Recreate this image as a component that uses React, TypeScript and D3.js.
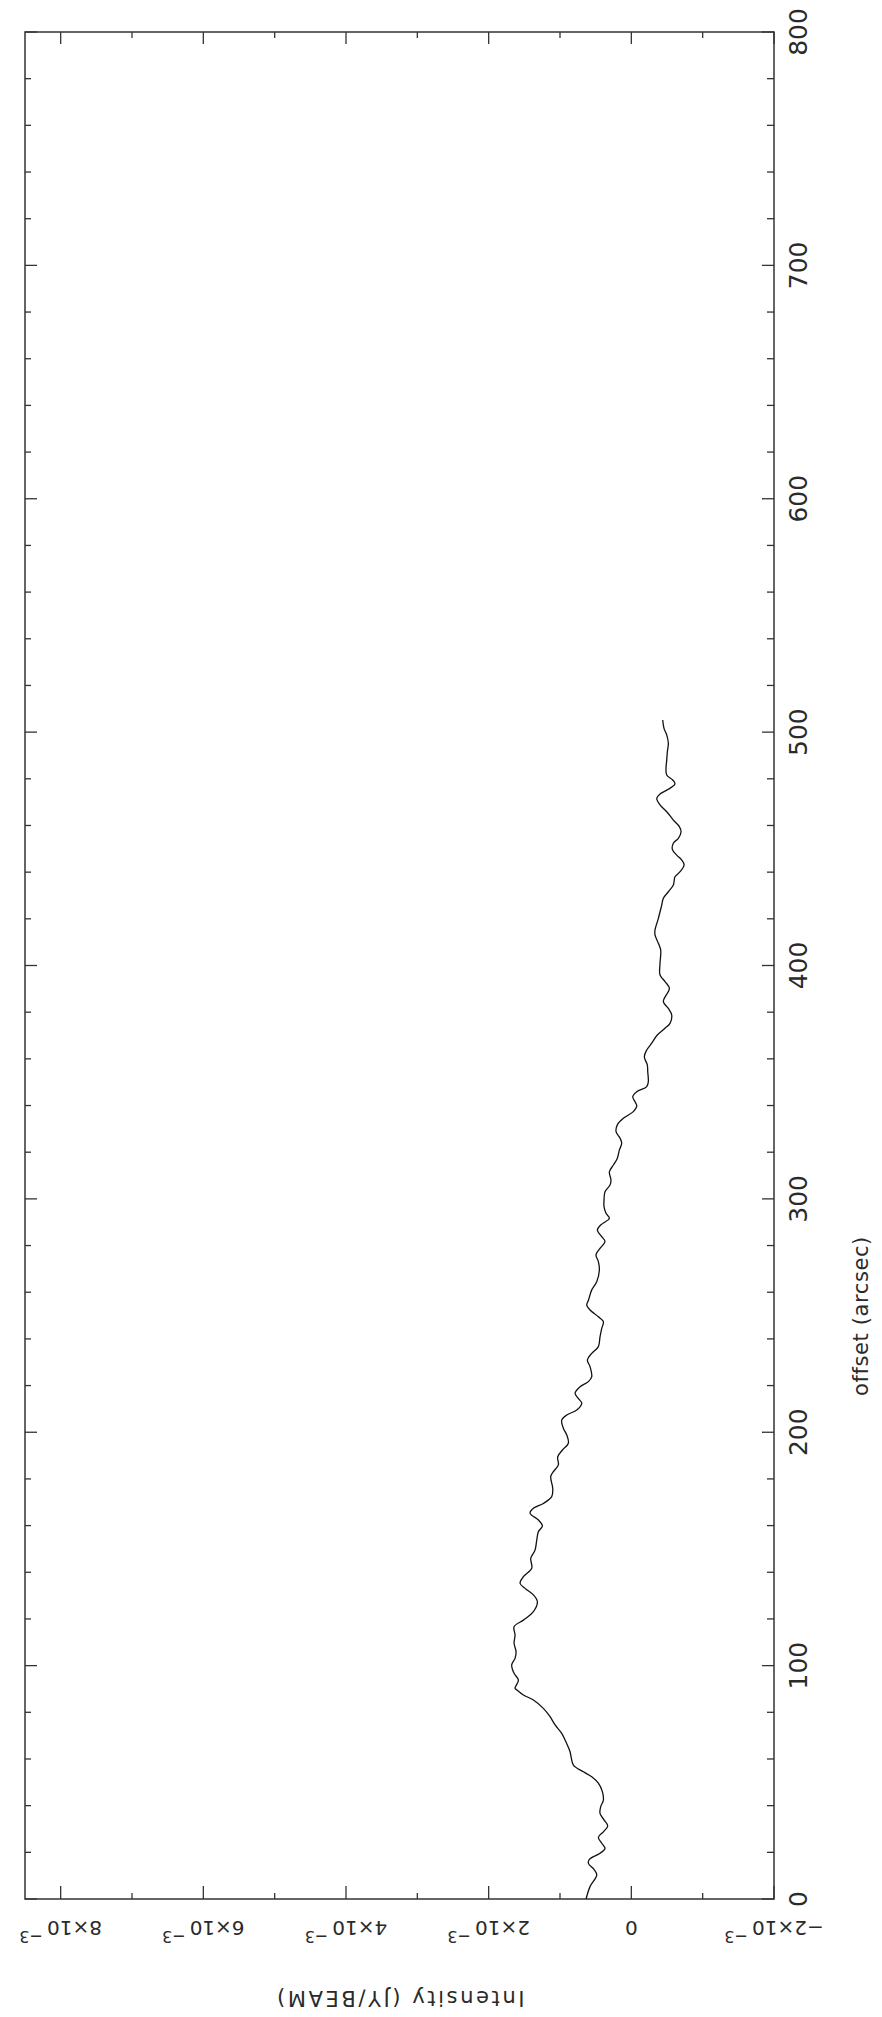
import React from "react";
import * as d3 from "d3";

// Offset along the cut (arcsec)
const OFFSET = [
  0, 5.3, 10.3, 12.7, 15.3, 17.0, 19.6, 21.7, 23.9, 26.4, 28.8, 31.3, 33.9, 36.7, 39.6, 42.4, 46.0, 49.6,
  52.4, 54.5, 57.4, 61.0, 63.1, 68.1, 71.0, 74.6, 78.1, 81.7, 85.3, 87.4, 89.6, 90.3, 93.8, 96.7, 100.3,
  103.1, 106.0, 109.6, 113.1, 116.7, 119.5, 123.1, 127.4, 130.3, 133.1, 135.3, 138.1, 141.7, 146.0, 149.5,
  153.8, 157.4, 159.8, 162.4, 165.3, 167.4, 169.5, 172.4, 176.0, 181.0, 183.1, 186.0, 189.5, 192.4, 195.3,
  198.8, 201.7, 205.2, 207.4, 209.5, 212.4, 214.5, 216.7, 219.5, 221.7, 223.8, 228.1, 231.0, 233.8, 236.7,
  240.9, 244.5, 247.4, 249.5, 252.4, 254.5, 256.7, 261.0, 264.5, 269.5, 273.1, 276.0, 278.8, 281.7, 283.8,
  286.7, 288.8, 291.7, 293.8, 296.7, 299.5, 303.1, 305.9, 308.1, 311.6, 314.5, 317.4, 320.9, 323.8, 326.0,
  328.8, 331.7, 334.5, 337.4, 339.8, 341.6, 343.8, 345.9, 348.1, 350.2, 354.5, 357.4, 360.9, 363.8, 366.7,
  370.2, 373.1, 375.2, 378.8, 381.6, 384.5, 390.2, 393.1, 395.9, 400.9, 406.6, 409.5, 413.1, 415.2, 420.2,
  425.9, 428.8, 431.6, 434.5, 438.0, 440.2, 443.1, 445.2, 447.3, 449.8, 452.4, 454.5, 457.3, 459.5, 462.3,
  465.9, 468.8, 471.6, 473.5, 475.5, 477.8, 479.5, 481.6, 484.5, 488.0, 491.6, 495.2, 498.8, 501.6, 505.2,
];

// Intensity in units of 1e-3 JY/BEAM
const INTENSITY_E3 = [
  0.635, 0.579, 0.485, 0.523, 0.602, 0.588, 0.439, 0.369, 0.415, 0.462, 0.392, 0.331, 0.383, 0.439, 0.429,
  0.392, 0.406, 0.462, 0.555, 0.672, 0.812, 0.845, 0.859, 0.929, 0.976, 1.069, 1.139, 1.233, 1.373, 1.513,
  1.606, 1.63, 1.583, 1.644, 1.677, 1.63, 1.616, 1.644, 1.63, 1.644, 1.513, 1.373, 1.317, 1.373, 1.49, 1.56,
  1.513, 1.396, 1.41, 1.35, 1.326, 1.303, 1.247, 1.303, 1.42, 1.373, 1.233, 1.116, 1.102, 1.13, 1.093, 1.023,
  1.032, 0.965, 0.883, 0.905, 0.953, 0.976, 0.905, 0.765, 0.695, 0.743, 0.789, 0.719, 0.602, 0.555, 0.579,
  0.616, 0.555, 0.462, 0.439, 0.415, 0.392, 0.462, 0.579, 0.625, 0.6, 0.555, 0.485, 0.448, 0.462, 0.495,
  0.439, 0.369, 0.415, 0.476, 0.429, 0.308, 0.355, 0.383, 0.383, 0.369, 0.299, 0.285, 0.308, 0.252, 0.196,
  0.168, 0.135, 0.158, 0.214, 0.196, 0.112, -0.028, -0.076, -0.052, -0.02, -0.076, -0.216, -0.238, -0.23,
  -0.224, -0.182, -0.216, -0.286, -0.364, -0.472, -0.542, -0.566, -0.519, -0.449, -0.533, -0.472, -0.402,
  -0.402, -0.412, -0.379, -0.332, -0.332, -0.379, -0.426, -0.449, -0.519, -0.589, -0.612, -0.683, -0.739,
  -0.706, -0.636, -0.575, -0.589, -0.659, -0.697, -0.673, -0.589, -0.496, -0.402, -0.356, -0.402, -0.519,
  -0.612, -0.58, -0.496, -0.486, -0.496, -0.505, -0.519, -0.496, -0.458, -0.44,
];

const OFFSET_TICKS = [0, 100, 200, 300, 400, 500, 600, 700, 800];
const INTENSITY_TICKS = [-2e-3, 0, 2e-3, 4e-3, 6e-3, 8e-3];
const INTENSITY_TICK_MANTISSA = ["−2", "0", "2", "4", "6", "8"];

const OFFSET_LABEL = "offset (arcsec)";
const INTENSITY_LABEL = "Intensity (JY/BEAM)";

const FONT = "'DejaVu Sans', Verdana, sans-serif";

export default function App() {
  const left = 25, right = 774, top = 32, bottom = 1899;
  const xI = d3.scaleLinear().domain([-2e-3, 8.5e-3]).range([right, left]);
  const yO = d3.scaleLinear().domain([0, 800]).range([bottom, top]);

  const data = OFFSET.map((o, i) => ({ o, v: INTENSITY_E3[i] * 1e-3 }));
  const line = d3
    .line<{ o: number; v: number }>()
    .x((d) => xI(d.v))
    .y((d) => yO(d.o))
    .curve(d3.curveCatmullRom.alpha(0.5));

  const offMinor = d3.range(0, 801, 20).filter((v) => v % 100 !== 0);
  const intMinor = d3.range(-2, 8.5, 1).filter((v) => Math.abs(v) % 2 !== 0).map((v) => v * 1e-3);

  const frameColor = "#333";
  const textColor = "#2a2a2a";

  return (
    <svg
      width={882}
      height={2017}
      style={{ position: "absolute", left: 0, top: 0, background: "#fff" }}
    >
      <rect x={left} y={top} width={right - left} height={bottom - top} fill="none" stroke={frameColor} strokeWidth={1.5} />
      {OFFSET_TICKS.map((t) => (
        <g key={"om" + t}>
          <line x1={right} x2={right - 12} y1={yO(t)} y2={yO(t)} stroke={frameColor} strokeWidth={1.3} />
          <line x1={left} x2={left + 12} y1={yO(t)} y2={yO(t)} stroke={frameColor} strokeWidth={1.3} />
        </g>
      ))}
      {offMinor.map((t) => (
        <g key={"on" + t}>
          <line x1={right} x2={right - 7} y1={yO(t)} y2={yO(t)} stroke={frameColor} strokeWidth={1.3} />
          <line x1={left} x2={left + 6} y1={yO(t)} y2={yO(t)} stroke={frameColor} strokeWidth={1.3} />
        </g>
      ))}
      {INTENSITY_TICKS.map((t) => (
        <g key={"im" + t}>
          <line x1={xI(t)} x2={xI(t)} y1={bottom} y2={bottom - 13} stroke={frameColor} strokeWidth={1.3} />
          <line x1={xI(t)} x2={xI(t)} y1={top} y2={top + 12} stroke={frameColor} strokeWidth={1.3} />
        </g>
      ))}
      {intMinor.map((t) => (
        <g key={"in" + t}>
          <line x1={xI(t)} x2={xI(t)} y1={bottom} y2={bottom - 6} stroke={frameColor} strokeWidth={1.3} />
          <line x1={xI(t)} x2={xI(t)} y1={top} y2={top + 6} stroke={frameColor} strokeWidth={1.3} />
        </g>
      ))}

      <path d={line(data) || ""} fill="none" stroke="#111" strokeWidth={1.3} />

      {OFFSET_TICKS.map((t) => (
        <text
          key={"ol" + t}
          transform={`translate(807,${yO(t)}) rotate(-90)`}
          textAnchor="middle"
          fontFamily={FONT}
          fontSize={25}
          fill={textColor}
        >
          {t}
        </text>
      ))}
      <text
        transform={`translate(868,1316) rotate(-90)`}
        textAnchor="middle"
        fontFamily={FONT}
        fontSize={21}
        letterSpacing={0.6}
        fill={textColor}
      >
        {OFFSET_LABEL}
      </text>

      {INTENSITY_TICKS.map((t, i) => (
        <text
          key={"il" + t}
          transform={`translate(${xI(t)},1920.5) rotate(180)`}
          textAnchor="middle"
          fontFamily={FONT}
          fontSize={20}
          fill={textColor}
        >
          {t === 0 ? (
            "0"
          ) : (
            <>
              {INTENSITY_TICK_MANTISSA[i]}×10
              <tspan dx={4} dy={-10} fontSize={16}>
                −3
              </tspan>
            </>
          )}
        </text>
      ))}
      <text
        transform={`translate(${(left + right) / 2},1991) rotate(180)`}
        textAnchor="middle"
        fontFamily={FONT}
        fontSize={21}
        letterSpacing={2.6}
        fill={textColor}
      >
        {INTENSITY_LABEL}
      </text>
    </svg>
  );
}
